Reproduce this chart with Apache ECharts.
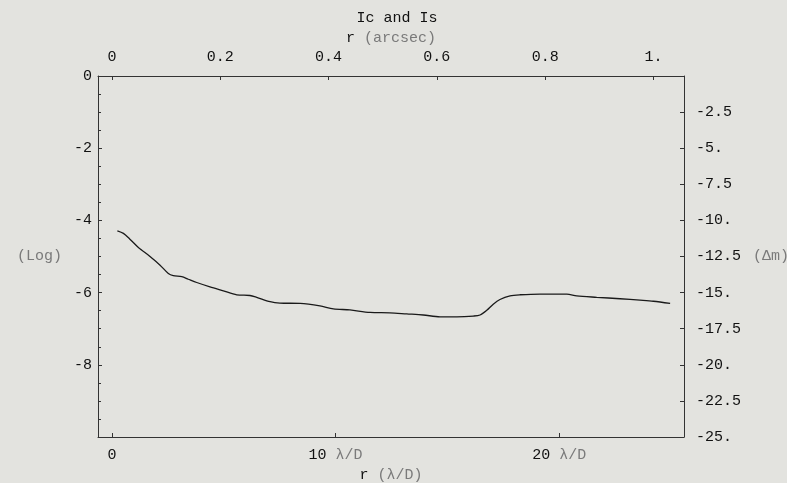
<!DOCTYPE html>
<html>
<head>
<meta charset="utf-8">
<script src="https://cdn.jsdelivr.net/npm/echarts@6/dist/echarts.min.js"></script>
<style>
html,body{margin:0;padding:0;background:#e3e3df;}
#chart{width:787px;height:483px;}
</style>
</head>
<body>
<div id="chart"></div>
<script>
// Data
const radiusLambdaD = [0.24,0.51,0.80,1.18,1.70,2.15,2.52,2.74,3.12,3.41,3.79,4.38,4.98,5.58,6.17,6.47,7.07,7.51,8.41,9.30,9.90,10.64,11.54,12.43,13.18,13.92,14.67,15.42,16.16,16.46,16.76,17.05,17.35,17.80,18.25,19.14,20.34,20.78,21.68,22.72,23.61,24.21,24.96];
const logIntensity = [-4.29,-4.36,-4.52,-4.75,-5.00,-5.24,-5.47,-5.53,-5.56,-5.63,-5.72,-5.84,-5.95,-6.06,-6.08,-6.13,-6.25,-6.29,-6.30,-6.37,-6.45,-6.48,-6.55,-6.56,-6.59,-6.62,-6.67,-6.67,-6.65,-6.62,-6.49,-6.32,-6.19,-6.09,-6.06,-6.04,-6.04,-6.09,-6.13,-6.17,-6.21,-6.24,-6.30];
const bottomTicks = [0, 10, 20];
const topTicks = [0, 0.2, 0.4, 0.6, 0.8, 1];
const titleText = 'Ic and Is';

const ARCSEC_PER_LD = 0.0413;
const xMin = -0.626, xMax = 25.58;

const FONT = 'Liberation Mono';
const FS = 15;
const dark = '#111';
const gray = '#7a7a7a';
const lineCol = '#333';

const chart = echarts.init(document.getElementById('chart'), null, {renderer:'canvas'});
const seriesData = radiusLambdaD.map((x,i)=>[x, logIntensity[i]]);

chart.setOption({
  backgroundColor: '#e3e3df',
  animation: false,
  title: {
    text: titleText, left: 392, top: 6, textAlign: 'center',
    textStyle: {fontFamily: FONT, fontSize: FS, fontWeight: 'normal', color: dark}
  },
  grid: {left: 98, right: 103, top: 76, bottom: 46, containLabel: false, outerBoundsMode: 'none'},
  xAxis: [
    {
      type: 'value', position: 'bottom', min: xMin, max: xMax,
      name: '{a|r} {b|(λ/D)}', nameLocation: 'middle', nameGap: 37,
      nameTextStyle: {verticalAlign: 'middle', fontFamily: FONT, fontSize: FS,
        rich: {a:{color: dark, fontFamily: FONT, fontSize: FS}, b:{color: gray, fontFamily: FONT, fontSize: FS}}},
      axisLine: {show: true, onZero: false, lineStyle: {color: lineCol, width: 1}},
      axisTick: {show: true, inside: true, length: 4, customValues: bottomTicks, lineStyle: {color: lineCol}},
      axisLabel: {
        customValues: bottomTicks, margin: 11, fontFamily: FONT, fontSize: FS, color: dark,
        formatter: v => v === 0 ? '{a|0}' : '{a|' + v + '} {b|λ/D}',
        rich: {a:{color: dark, fontFamily: FONT, fontSize: FS}, b:{color: gray, fontFamily: FONT, fontSize: FS}}
      },
      splitLine: {show: false}
    },
    {
      type: 'value', position: 'top', min: xMin * ARCSEC_PER_LD, max: xMax * ARCSEC_PER_LD,
      name: '{a|r} {b|(arcsec)}', nameLocation: 'middle', nameGap: 37,
      nameTextStyle: {verticalAlign: 'middle', fontFamily: FONT, fontSize: FS,
        rich: {a:{color: dark, fontFamily: FONT, fontSize: FS}, b:{color: gray, fontFamily: FONT, fontSize: FS}}},
      axisLine: {show: true, onZero: false, lineStyle: {color: lineCol, width: 1}},
      axisTick: {show: true, inside: true, length: 4, customValues: topTicks, lineStyle: {color: lineCol}},
      axisLabel: {
        customValues: topTicks, margin: 11, fontFamily: FONT, fontSize: FS, color: dark,
        formatter: v => v === 0 ? '0' : (Math.abs(v - 1) < 1e-9 ? '1.' : v.toFixed(1))
      },
      splitLine: {show: false}
    }
  ],
  yAxis: [
    {
      type: 'value', position: 'left', min: -10, max: 0, interval: 2,
      name: '(Log)', nameLocation: 'middle', nameRotate: 0, nameGap: 36,
      nameTextStyle: {align: 'right', verticalAlign: 'middle', fontFamily: FONT, fontSize: FS, color: gray},
      axisLine: {show: true, onZero: false, lineStyle: {color: lineCol, width: 1}},
      axisTick: {show: true, inside: true, length: 4, lineStyle: {color: lineCol}},
      minorTick: {show: true, splitNumber: 4, length: 3, lineStyle: {color: lineCol}},
      axisLabel: {
        margin: 6, fontFamily: FONT, fontSize: FS, color: dark,
        formatter: v => v === -10 ? '' : String(v)
      },
      splitLine: {show: false}
    },
    {
      type: 'value', position: 'right', min: -25, max: 0, interval: 2.5,
      name: '(Δm)', nameLocation: 'middle', nameRotate: 0, nameGap: 69,
      nameTextStyle: {align: 'left', verticalAlign: 'middle', fontFamily: FONT, fontSize: FS, color: gray},
      axisLine: {show: true, onZero: false, lineStyle: {color: lineCol, width: 1}},
      axisTick: {show: true, inside: true, length: 4, lineStyle: {color: lineCol}},
      axisLabel: {
        margin: 12, fontFamily: FONT, fontSize: FS, color: dark,
        formatter: v => v === 0 ? '' : (Number.isInteger(v) ? v + '.' : String(v))
      },
      splitLine: {show: false}
    }
  ],
  series: [{
    type: 'line', xAxisIndex: 0, yAxisIndex: 0,
    data: seriesData, smooth: 0.3, showSymbol: false, symbol: 'none',
    lineStyle: {color: '#1a1a1a', width: 1.3}
  }]
});
</script>
</body>
</html>
